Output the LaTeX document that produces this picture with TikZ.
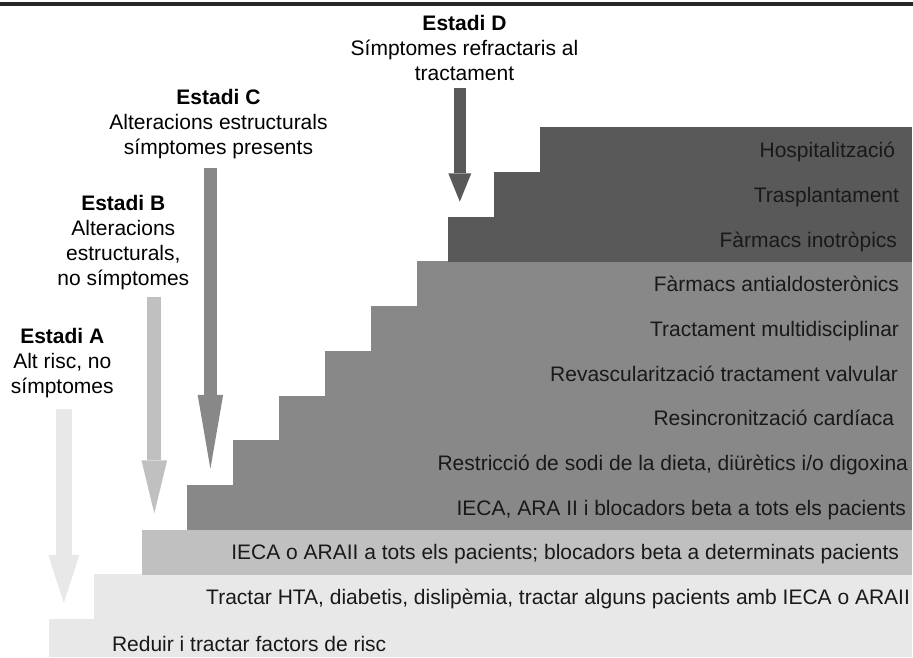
\documentclass[tikz,border=0pt]{standalone}
\usepackage{fontspec}
\setmainfont{Liberation Sans}
\usetikzlibrary{arrows.meta}

\definecolor{stepA}{HTML}{E8E8E8}
\definecolor{stepB}{HTML}{C0C0C0}
\definecolor{stepC}{HTML}{888888}
\definecolor{stepD}{HTML}{595959}

\begin{document}
\begin{tikzpicture}[x=1pt, y=-1pt,
    every node/.style={font=\fontsize{21}{25}\selectfont, inner sep=0pt, outer sep=0pt},
    band/.style={rectangle, anchor=north west, minimum height=45pt},
    bandtext/.style={anchor=base east, text=black!90},
    stagelabel/.style={align=center, anchor=base},
    stagearrow/.style n args={4}{draw=#1, line width=#2, -{Triangle[length=#3, width=#4, line width=0pt]}}
]
\useasboundingbox (0,0) rectangle (913,657);

% top rule
\draw[line width=4pt, black!85] (0,4) -- (913,4);

% Stage A/B bands
\node[band, fill=stepA, minimum height=38pt, minimum width=863pt] (risc) at (49,619) {};
\node[anchor=base west, text=black!90] (tRisc) at ([shift={(63,13.7)}]risc.west) {Reduir i tractar factors de risc};
\node[band, fill=stepA, minimum width=818pt] (hta) at (94,574.3) {};
\node[bandtext] (tHta) at ([shift={(-2,7.8)}]hta.east) {Tractar HTA, diabetis, dislipèmia, tractar alguns pacients amb IECA o ARAII};
\node[band, fill=stepB, minimum width=770.5pt] (ieca) at (141.5,529.6) {};
\node[bandtext] (tIeca) at ([shift={(-13,7.8)}]ieca.east) {IECA o ARAII a tots els pacients; blocadors beta a determinats pacients};

% Stage C bands
\node[band, fill=stepC, minimum width=725.3pt] (beta) at (186.7,484.9) {};
\node[bandtext] (tBeta) at ([shift={(-6,7.8)}]beta.east) {IECA, ARA II i blocadors beta a tots els pacients};
\node[band, fill=stepC, minimum width=679.3pt] (sodi) at (232.7,440.2) {};
\node[bandtext] (tSodi) at ([shift={(-4,7.8)}]sodi.east) {Restricció de sodi de la dieta, diürètics i/o digoxina};
\node[band, fill=stepC, minimum width=633pt] (resinc) at (279,395.5) {};
\node[bandtext] (tResinc) at ([shift={(-18,7.8)}]resinc.east) {Resincronització cardíaca};
\node[band, fill=stepC, minimum width=587pt] (revasc) at (325,350.8) {};
\node[bandtext] (tRevasc) at ([shift={(-14,7.8)}]revasc.east) {Revascularització tractament valvular};
\node[band, fill=stepC, minimum width=541pt] (multi) at (371,306.1) {};
\node[bandtext] (tMulti) at ([shift={(-13,7.8)}]multi.east) {Tractament multidisciplinar};
\node[band, fill=stepC, minimum width=494.7pt] (antiald) at (417.3,261.4) {};
\node[bandtext] (tAntiald) at ([shift={(-13,7.8)}]antiald.east) {Fàrmacs antialdosterònics};

% Stage D bands
\node[band, fill=stepD, minimum width=463.7pt] (inotr) at (448.3,216.7) {};
\node[bandtext] (tInotr) at ([shift={(-15,7.8)}]inotr.east) {Fàrmacs inotròpics};
\node[band, fill=stepD, minimum width=417.7pt] (trasp) at (494.3,172) {};
\node[bandtext] (tTrasp) at ([shift={(-13,7.8)}]trasp.east) {Trasplantament};
\node[band, fill=stepD, minimum width=372pt] (hosp) at (540,127.3) {};
\node[bandtext] (tHosp) at ([shift={(-17,7.8)}]hosp.east) {Hospitalització};

% Stage labels (anchored at the last line)
\node[stagelabel] (stA) at (62.3,393.3) {\textbf{Estadi A}\\Alt risc, no\\símptomes};
\node[stagelabel] (stB) at (123.3,285.5) {\textbf{Estadi B}\\Alteracions\\estructurals,\\no símptomes};
\node[stagelabel] (stC) at (218.5,154) {\textbf{Estadi C}\\Alteracions estructurals\\símptomes presents};
\node[stagelabel] (stD) at (464.5,80.7) {\textbf{Estadi D}\\Símptomes refractaris al\\tractament};

% Stage arrows
\coordinate (aTop) at (63.8,409);
\coordinate (aTip) at (63.8,603);
\coordinate (bTop) at (154.3,296.7);
\coordinate (bTip) at (154.3,513.3);
\coordinate (cTop) at (210.4,168.3);
\coordinate (cTip) at (210.4,468.8);
\coordinate (dTop) at (459.8,88.3);
\coordinate (dTip) at (459.8,201.7);
\draw[stagearrow={stepA}{15.7pt}{48pt}{31pt}] (aTop) -- (aTip);
\draw[stagearrow={stepB}{14.3pt}{53pt}{25.7pt}] (bTop) -- (bTip);
\draw[stagearrow={stepC}{12.7pt}{74pt}{25.5pt}] (cTop) -- (cTip);
\draw[stagearrow={stepD}{11.5pt}{28.4pt}{23pt}] (dTop) -- (dTip);

\end{tikzpicture}
\end{document}
